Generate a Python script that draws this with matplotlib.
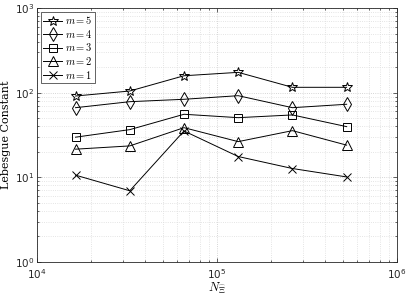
import matplotlib
matplotlib.use("Agg")
import matplotlib.pyplot as plt
from matplotlib.ticker import LogLocator, NullFormatter

plt.rcParams['mathtext.fontset'] = 'cm'
plt.rcParams['font.family'] = 'DejaVu Sans'

# number of samples
N = [16384, 32768, 65536, 131072, 262144, 524288]

# Lebesgue constant per order m
m5 = [91.4, 104.7, 158.6, 174.0, 115.8, 115.8]
m4 = [66.5, 78.3, 83.6, 92.2, 66.5, 73.0]
m3 = [29.8, 36.6, 55.6, 50.7, 54.6, 39.7]
m2 = [21.5, 23.5, 38.6, 26.4, 35.6, 24.0]
m1 = [10.6, 6.93, 35.3, 17.6, 12.7, 10.1]

series = [(m5, '*', '$m = 5$'), (m4, 'd', '$m = 4$'), (m3, 's', '$m = 3$'),
          (m2, '^', '$m = 2$'), (m1, 'x', '$m = 1$')]

fig = plt.figure(figsize=(4.15, 3.0), dpi=100)
ax = fig.add_axes([0.089, 0.127, 0.868, 0.846])

sizes = {'*': 7.5, 'd': 7, 's': 5.5, '^': 6.5, 'x': 5.5}
for vals, mk, lab in series:
    ax.plot(N, vals, color='black', lw=0.7, marker=mk, markersize=sizes[mk],
            markerfacecolor='none', markeredgewidth=0.7, label=lab)

ax.set_xscale('log')
ax.set_yscale('log')
ax.set_xlim(1e4, 1e6)
ax.set_ylim(1, 1e3)

ax.xaxis.set_minor_locator(LogLocator(base=10, subs=range(2, 10)))
ax.yaxis.set_minor_locator(LogLocator(base=10, subs=range(2, 10)))
ax.xaxis.set_minor_formatter(NullFormatter())
ax.yaxis.set_minor_formatter(NullFormatter())

ax.grid(True, which='major', ls=':', lw=0.6, color='#c8c8c8')
ax.grid(True, which='minor', ls=':', lw=0.6, color='#dcdcdc')

ax.tick_params(which='both', direction='in', top=True, right=True,
               labelsize=7.5, colors='#262626', width=0.5)
ax.tick_params(axis='y', pad=2)
ax.tick_params(axis='x', pad=4)
ax.tick_params(which='major', length=3)
ax.tick_params(which='minor', length=1.5)
for sp in ax.spines.values():
    sp.set_linewidth(0.6)
    sp.set_color('#262626')

ax.set_xlabel(r'$N_{\widehat{\Xi}}$', fontsize=9, labelpad=0)
ax.set_ylabel('Lebesgue Constant', fontsize=8, family='serif')
ax.yaxis.set_label_coords(-0.072, 0.5)

leg = ax.legend(loc='upper left', fontsize=7.5, fancybox=False,
                edgecolor='#262626', framealpha=1, handlelength=1.8,
                borderpad=0.25, labelspacing=0.15, handletextpad=0.3,
                borderaxespad=0.35)
leg.get_frame().set_linewidth(0.5)

fig.savefig('out.png', dpi=100)
